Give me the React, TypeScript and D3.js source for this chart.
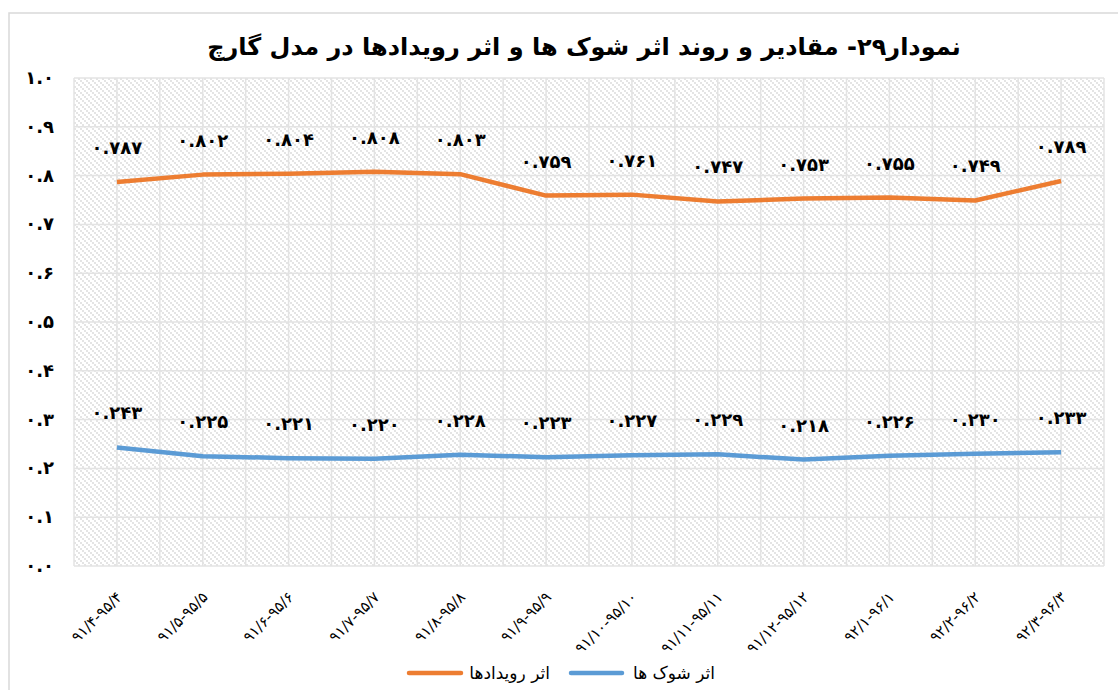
import React from "react";
import * as d3 from "d3";

const categories = [
  "۹۱/۴-۹۵/۴", "۹۱/۵-۹۵/۵", "۹۱/۶-۹۵/۶", "۹۱/۷-۹۵/۷", "۹۱/۸-۹۵/۸", "۹۱/۹-۹۵/۹",
  "۹۱/۱۰-۹۵/۱۰", "۹۱/۱۱-۹۵/۱۱", "۹۱/۱۲-۹۵/۱۲", "۹۲/۱-۹۶/۱", "۹۲/۲-۹۶/۲", "۹۲/۳-۹۶/۳",
];
const eventsValues = [0.787, 0.802, 0.804, 0.808, 0.803, 0.759, 0.761, 0.747, 0.753, 0.755, 0.749, 0.789];
const shocksValues = [0.243, 0.225, 0.221, 0.220, 0.228, 0.223, 0.227, 0.229, 0.218, 0.226, 0.230, 0.233];
const yTicks = [0, 0.1, 0.2, 0.3, 0.4, 0.5, 0.6, 0.7, 0.8, 0.9, 1.0];
const title = "نمودار۲۹- مقادیر و روند اثر شوک ها و اثر رویدادها در مدل گارچ";
const seriesNames = { shocks: "اثر شوک ها", events: "اثر رویدادها" };

const W = 1118, H = 690;
const plot = { left: 74, right: 1104, top: 78, bottom: 566 };
const ORANGE = "#ED7D31";
const BLUE = "#5B9BD5";
const FONT = "'DejaVu Sans', sans-serif";

const fa = (s: string) => s.replace(/[0-9]/g, (d) => "۰۱۲۳۴۵۶۷۸۹"[+d]);

export default function App() {
  const x = d3.scaleBand<string>().domain(categories).range([plot.left, plot.right]);
  const y = d3.scaleLinear().domain([0, 1]).range([plot.bottom, plot.top]);
  const cx = (c: string) => (x(c) as number) + x.bandwidth() / 2;
  const line = d3.line<number>().x((_, i) => cx(categories[i])).y((v) => y(v));

  const vGrid: number[] = [];
  categories.forEach((c) => {
    vGrid.push(x(c) as number);
    vGrid.push(cx(c));
  });
  vGrid.push(plot.right);

  return (
    <svg width={W} height={H} style={{ position: "absolute", left: 0, top: 0, background: "#fff" }}>
      <defs>
        <pattern id="hatch" width="6" height="6" patternUnits="userSpaceOnUse">
          <rect x="0" y="0" width="6" height="6" fill="#fff" />
          <rect x="0" y="0" width="2" height="2" fill="#e4e4e4" />
          <rect x="2" y="2" width="2" height="2" fill="#e4e4e4" />
          <rect x="4" y="4" width="2" height="2" fill="#e4e4e4" />
        </pattern>
      </defs>
      <rect x={9} y={13} width={1200} height={800} fill="#fff" stroke="#d9d9d9" strokeWidth={1.5} />
      <text x={584} y={55} textAnchor="middle" fontFamily={FONT} fontWeight="bold" fontSize={24} direction="rtl" fill="#000">
        {title}
      </text>
      <rect x={plot.left} y={plot.top} width={plot.right - plot.left} height={plot.bottom - plot.top} fill="url(#hatch)" />
      {yTicks.map((t) => (
        <line key={"h" + t} x1={plot.left} x2={plot.right} y1={y(t)} y2={y(t)} stroke="#e3e3e3" strokeWidth={1.5} />
      ))}
      {vGrid.map((v, i) => (
        <line key={"v" + i} x1={v} x2={v} y1={plot.top} y2={plot.bottom} stroke="#e3e3e3" strokeWidth={1.5} />
      ))}
      {yTicks.map((t) => (
        <text key={"yl" + t} x={54} y={y(t) + 6} textAnchor="end" fontFamily={FONT} fontWeight="bold" fontSize={18} fill="#000">
          {fa(t.toFixed(1))}
        </text>
      ))}
      <path d={line(eventsValues) || ""} fill="none" stroke={ORANGE} strokeWidth={4.5} strokeLinejoin="round" />
      <path d={line(shocksValues) || ""} fill="none" stroke={BLUE} strokeWidth={4.5} strokeLinejoin="round" />
      {eventsValues.map((v, i) => (
        <text key={"le" + i} x={cx(categories[i])} y={y(v) - 28} textAnchor="middle" fontFamily={FONT} fontWeight="bold" fontSize={18} fill="#000">
          {fa(v.toFixed(3))}
        </text>
      ))}
      {shocksValues.map((v, i) => (
        <text key={"ls" + i} x={cx(categories[i])} y={y(v) - 28} textAnchor="middle" fontFamily={FONT} fontWeight="bold" fontSize={18} fill="#000">
          {fa(v.toFixed(3))}
        </text>
      ))}
      {categories.map((c) => (
        <text key={"xl" + c} transform={`translate(${cx(c) + 6},${plot.bottom + 32}) rotate(-45)`} textAnchor="end" fontFamily={FONT} fontSize={15} fill="#000" direction="ltr">
          {c}
        </text>
      ))}
      <g>
        <line x1={409} x2={461} y1={673} y2={673} stroke={ORANGE} strokeWidth={4.5} strokeLinecap="round" />
        <text x={550} y={679} textAnchor="end" fontFamily={FONT} fontSize={17} fill="#000">{seriesNames.events}</text>
        <line x1={571} x2={622} y1={673} y2={673} stroke={BLUE} strokeWidth={4.5} strokeLinecap="round" />
        <text x={715} y={679} textAnchor="end" fontFamily={FONT} fontSize={17} fill="#000">{seriesNames.shocks}</text>
      </g>
    </svg>
  );
}
